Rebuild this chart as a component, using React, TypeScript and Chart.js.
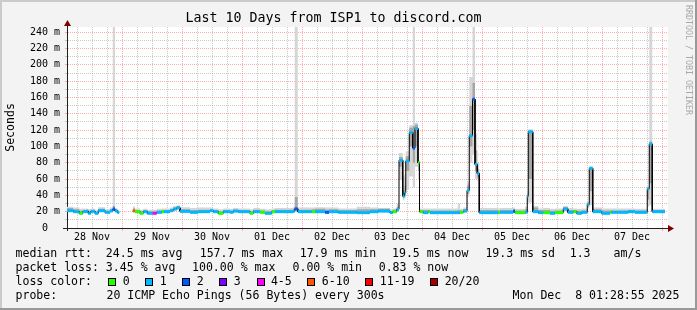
import React, { useEffect, useRef } from 'react';
import { Chart, registerables } from 'chart.js';

Chart.register(...registerables);

const MONO = '"DejaVu Sans Mono", "Liberation Mono", monospace';

const chartTitle = 'Last 10 Days from ISP1 to discord.com';
const yAxisTitle = 'Seconds';
const watermark = 'RRDTOOL / TOBI OETIKER';

// x axis: hours since 28 Nov 00:00
const hourRange = [2, 242];
const dayLabels = ['28 Nov', '29 Nov', '30 Nov', '01 Dec', '02 Dec', '03 Dec', '04 Dec', '05 Dec', '06 Dec', '07 Dec'];
// y axis: milliseconds
const yTicks = [0, 10, 20, 30, 40, 50, 60, 70, 80, 90, 100, 110, 120, 130, 140, 150, 160, 170, 180, 190, 200, 210, 220, 230, 240];
const yMax = 246.5;

// start hour of each step (last entry = end of the last step)
const stepStart = [
  2.0, 4.5, 6.9, 8.3, 9.9, 10.5, 11.5, 13.2, 14.5, 17.2,
  19.2, 20.3, 21.2, 22.1, 22.9, 28.3, 29.2, 31.2, 32.5, 34.1,
  36.3, 37.9, 39.9, 40.8, 43.2, 44.5, 45.9, 47.2, 51.2, 54.4,
  59.2, 60.5, 62.5, 64.5, 67.2, 68.5, 70.5, 75.2, 76.5, 79.2,
  81.2, 83.9, 85.2, 92.5, 93.1, 94.3, 99.9, 101.2, 105.2, 106.8,
  110.5, 117.9, 123.2, 126.5, 131.2, 132.3, 133.9, 134.8, 136.3, 137.0,
  137.5, 138.9, 140.3, 141.2, 142.4, 143.0, 144.5, 146.5, 147.2, 158.3,
  159.2, 160.5, 162.0, 162.9, 164.2, 165.2, 166.1, 166.9, 174.5, 175.2,
  180.5, 181.2, 185.2, 186.1, 186.5, 188.3, 190.5, 192.5, 195.2, 197.2,
  200.5, 202.3, 204.5, 205.9, 207.9, 210.1, 210.9, 212.3, 215.9, 219.2,
  219.8, 226.5, 229.2, 234.1, 234.9, 236.1, 241.2,
];

// median rtt (ms) per step, null = no data
const medianMs: (number | null)[] = [
  21.2, 20.0, 18.0, 20.0, 20.8, 18.0, 20.4, 18.0, 21.2, 19.2,
  21.0, 23.3, 21.0, 19.2, null, 21.0, 20.0, 18.0, 20.0, 18.0,
  18.0, 19.2, 20.0, 20.0, 21.2, 23.3, 24.9, 20.4, 19.2, 20.0,
  21.2, 20.0, 18.0, 20.0, 19.2, 20.8, 20.0, 18.0, 20.0, 19.2,
  18.0, 20.0, 20.0, 20.5, 23.5, 20.0, 20.0, 20.0, 19.2, 20.0,
  19.2, 18.8, 20.0, 20.8, 18.8, 20.0, 22.9, 83, 39, 43,
  82, 117, 98, 122, 80, 20.0, 18.8, 20.0, 18.8, 18.8,
  19.2, 20.8, 46, 113, 158, 78, 67, 18.8, 18.8, 19.2,
  20.8, 18.8, 19.2, 39, 118, 20.0, 18.8, 18.8, 18.0, 18.8,
  23.5, 19.2, 20.0, 18.0, 19.2, 29, 73, 20.0, 18.0, 19.2,
  19.2, 20.0, 19.2, 48, 103, 20.0,
];

// lost pings (of 20) per step
const lossPings: (number | null)[] = [
  1, 1, 0, 1, 1, 1, 1, 1, 1, 1,
  1, 2, 1, 1, null, 8, 0, 0, 1, 1,
  4, 1, 0, 1, 1, 1, 1, 1, 1, 1,
  1, 1, 0, 1, 1, 1, 1, 0, 1, 0,
  1, 0, 1, 1, 2, 1, 0, 1, 2, 1,
  1, 1, 1, 1, 1, 0, 1, 1, 1, 1,
  1, 1, 2, 1, 0, 0, 1, 0, 1, 1,
  0, 1, 1, 1, 2, 1, 1, 1, 0, 1,
  2, 0, 1, 1, 1, 1, 1, 0, 1, 0,
  1, 1, 0, 1, 1, 1, 1, 1, 1, 0,
  1, 1, 1, 1, 1, 1,
];

// smoke: full range of the pings
const smokeLow: (number | null)[] = [
  19.5, 18.5, 17.5, 18.5, 19.0, 17.5, 19.0, 17.5, 19.5, 18.0,
  19.5, 20.0, 19.5, 18.0, null, 19.5, 18.5, 17.5, 18.5, 17.5,
  17.5, 18.0, 18.5, 18.5, 19.5, 21.0, 22.0, 19.0, 18.0, 18.5,
  19.5, 18.5, 17.5, 18.5, 18.0, 19.0, 18.5, 17.5, 18.5, 18.0,
  17.5, 18.5, 18.5, 19.0, 20.0, 18.5, 18.5, 18.5, 18.0, 18.5,
  18.0, 17.5, 18.5, 19.0, 17.5, 18.5, 20.0, 59, 34, 36,
  47, 63, 50, 75, 59, 18.5, 17.5, 18.5, 17.5, 17.5,
  18.0, 19.0, 38, 80, 90, 60, 58, 17.5, 17.5, 18.0,
  19.0, 17.5, 18.0, 32, 31, 18.5, 17.5, 17.5, 17.5, 17.5,
  20.0, 18.0, 18.5, 17.5, 18.0, 24, 28, 18.5, 17.5, 18.0,
  18.0, 18.5, 18.0, 26, 28, 18.5,
];
const smokeHigh: (number | null)[] = [
  26.0, 25.0, 23.5, 24.0, 23.5, 23.0, 24.0, 22.5, 25.5, 23.0,
  25.0, 300, 24.5, 22.5, null, 26.5, 24.0, 22.5, 23.5, 22.5,
  22.5, 23.5, 24.0, 24.0, 25.0, 27.0, 28.0, 25.5, 24.5, 25.0,
  25.0, 24.0, 23.0, 24.0, 23.5, 24.5, 24.0, 23.0, 24.5, 23.5,
  23.0, 24.0, 24.5, 26.0, 300, 25.0, 25.0, 25.5, 25.0, 25.0,
  24.0, 26.0, 25.0, 24.5, 23.0, 24.0, 30.0, 92, 63, 66,
  94, 126, 300, 129, 84, 24.0, 24.0, 24.0, 24.0, 30.5,
  23.5, 25.0, 56, 185, 300, 116, 80, 24.5, 24.0, 24.5,
  25.0, 23.5, 26.0, 44, 121, 27.0, 24.0, 24.5, 23.5, 24.0,
  27.0, 24.5, 24.0, 23.5, 24.0, 32, 76, 25.0, 24.0, 24.0,
  24.0, 24.0, 23.5, 51, 300, 23.5,
];
// darker smoke: pings closest to the median
const coreLow: (number | null)[] = [
  20.5, 19.5, 18.0, 19.5, 20.0, 18.0, 20.0, 18.0, 20.5, 19.0,
  20.5, 21.0, 20.5, 19.0, null, 20.5, 19.5, 18.0, 19.5, 18.0,
  18.0, 19.0, 19.5, 19.5, 20.5, 22.0, 23.5, 20.0, 19.0, 19.5,
  20.5, 19.5, 18.0, 19.5, 19.0, 20.0, 19.5, 18.0, 19.5, 19.0,
  18.0, 19.5, 19.5, 20.0, 21.0, 19.5, 19.5, 19.5, 19.0, 19.5,
  19.0, 18.5, 19.5, 20.0, 18.5, 19.5, 21.0, 75, 38, 40,
  70, 100, 80, 100, 70, 19.5, 18.5, 19.5, 18.5, 18.5,
  19.0, 20.0, 42, 100, 120, 70, 62, 18.5, 18.5, 19.0,
  20.0, 18.5, 19.0, 35, 60, 19.5, 18.5, 18.5, 18.0, 18.5,
  21.5, 19.0, 19.5, 18.0, 19.0, 26, 45, 19.5, 18.0, 19.0,
  19.0, 19.5, 19.0, 35, 55, 19.5,
];
const coreHigh: (number | null)[] = [
  24.5, 23.0, 21.0, 22.0, 22.0, 20.5, 22.0, 20.0, 23.5, 21.0,
  23.0, 27.0, 23.0, 21.0, null, 24.0, 22.0, 20.5, 22.0, 20.5,
  20.5, 21.5, 22.0, 22.0, 23.5, 25.0, 26.5, 23.0, 22.0, 22.5,
  23.0, 22.0, 20.5, 22.0, 21.5, 22.5, 22.0, 20.5, 22.5, 21.5,
  20.5, 22.0, 22.5, 24.0, 38.0, 22.5, 23.0, 23.5, 22.5, 23.0,
  22.0, 23.0, 23.0, 23.5, 21.0, 22.5, 26.0, 87, 47, 52,
  88, 123, 125, 127, 82, 22.0, 22.0, 22.0, 21.5, 22.0,
  21.5, 23.0, 52, 150, 178, 95, 72, 22.0, 21.5, 22.0,
  23.0, 21.5, 23.0, 42, 119, 25.0, 22.0, 22.0, 21.0, 21.5,
  25.5, 22.0, 22.0, 21.0, 21.5, 31, 74, 23.0, 21.5, 21.5,
  21.5, 22.0, 21.5, 50, 106, 22.0,
];

const lossLabels = ['0', '1', '2', '3', '4-5', '6-10', '11-19', '20/20'];
const lossColors = ['#26ff00', '#00b8ff', '#0059ff', '#7e00ff', '#ff00ff', '#ff5500', '#ff0000', '#a10000'];

const rttLegend = ['median rtt:  24.5 ms avg', '157.7 ms max', '17.9 ms min', '19.5 ms now', '19.3 ms sd', '1.3', 'am/s'];
const lossLegend = ['packet loss: 3.45 % avg', '100.00 % max', '0.00 % min', '0.83 % now'];
const lossColorTitle = 'loss color:';
const probeLabel = 'probe:';
const probeText = '20 ICMP Echo Pings (56 Bytes) every 300s';
const stampText = 'Mon Dec  8 01:28:55 2025';

const BACK = '#f3f3f3';
const AXIS = '#202020';
const ARROW = '#7f0000';
const MAJOR_GRID = 'rgba(255,90,90,0.5)';
const MINOR_GRID = 'rgba(150,150,150,0.5)';
const SMOKE_LIGHT = '#d6d6d6';
const SMOKE_DARK = '#a6a6a6';

function lossClass(n: number): number {
  if (n <= 3) return n;
  if (n <= 5) return 4;
  if (n <= 10) return 5;
  if (n <= 19) return 6;
  return 7;
}

type Pt = { x: number; y: number | null };
function stepPoints(vals: (number | null)[]): { pts: Pt[]; owner: number[] } {
  const pts: Pt[] = [];
  const owner: number[] = [];
  for (let i = 0; i < vals.length; i++) {
    const v = vals[i];
    if (v === null) {
      pts.push({ x: stepStart[i], y: null });
      owner.push(i);
      continue;
    }
    pts.push({ x: stepStart[i], y: v });
    owner.push(i);
    pts.push({ x: stepStart[i + 1], y: v });
    owner.push(i);
  }
  return { pts, owner };
}

const xTickHours: number[] = [];
dayLabels.forEach((_, k) => {
  [0, 6, 12, 18].forEach((o) => {
    const h = 24 * k + o;
    if (h >= hourRange[0]) xTickHours.push(h);
  });
});
xTickHours.push(24 * dayLabels.length);

const rrdPlugin = {
  id: 'rrdFrame',
  beforeDraw(chart: any) {
    const { ctx, width, height, chartArea: a } = chart;
    ctx.save();
    ctx.fillStyle = BACK;
    ctx.fillRect(0, 0, width, height);
    ctx.fillStyle = '#ffffff';
    ctx.fillRect(a.left, a.top, a.right - a.left + 1, a.bottom - a.top);
    ctx.fillStyle = '#cbcbcb';
    ctx.fillRect(0, 0, width, 2);
    ctx.fillRect(0, 0, 2, height);
    ctx.fillStyle = '#999999';
    ctx.fillRect(0, height - 2, width, 2);
    ctx.fillRect(width - 2, 0, 2, height);
    ctx.restore();
  },
  afterDraw(chart: any) {
    const { ctx, chartArea: a } = chart;
    ctx.save();
    // axis extensions and arrows
    const ax = Math.floor(a.left) + 0.5;
    const ay = Math.floor(a.bottom) + 0.5;
    ctx.strokeStyle = AXIS;
    ctx.lineWidth = 1;
    ctx.beginPath();
    ctx.moveTo(ax, a.top);
    ctx.lineTo(ax, a.top - 4);
    ctx.moveTo(ax, a.bottom);
    ctx.lineTo(ax, a.bottom + 3);
    ctx.moveTo(a.left - 4, ay);
    ctx.lineTo(a.right + 2, ay);
    ctx.stroke();
    ctx.fillStyle = ARROW;
    ctx.beginPath();
    ctx.moveTo(ax, a.top - 7);
    ctx.lineTo(ax - 3.5, a.top - 1);
    ctx.lineTo(ax + 3.5, a.top - 1);
    ctx.closePath();
    ctx.fill();
    ctx.beginPath();
    ctx.moveTo(a.right + 7, ay);
    ctx.lineTo(a.right + 1, ay - 3.5);
    ctx.lineTo(a.right + 1, ay + 3.5);
    ctx.closePath();
    ctx.fill();

    // watermark
    ctx.save();
    ctx.translate(688.5, 5);
    ctx.rotate(Math.PI / 2);
    ctx.font = `8.3px ${MONO}`;
    ctx.fillStyle = '#a8a8a8';
    ctx.textAlign = 'left';
    ctx.textBaseline = 'middle';
    ctx.fillText(watermark, 0, 0);
    ctx.restore();

    // legend
    ctx.font = `11.55px ${MONO}`;
    ctx.fillStyle = '#000';
    ctx.textAlign = 'left';
    ctx.textBaseline = 'alphabetic';
    const rttX = [15.5, 199.7, 299.7, 392, 485.4, 569.7, 613.6];
    rttLegend.forEach((t, i) => ctx.fillText(t, rttX[i], 257.3));
    const lossX = [15.5, 192, 292.5, 378.7];
    lossLegend.forEach((t, i) => ctx.fillText(t, lossX[i], 271.3));
    ctx.fillText(lossColorTitle, 15.5, 285.3);
    let bx = 108.3;
    lossLabels.forEach((t, i) => {
      const x0 = Math.round(bx);
      ctx.fillStyle = lossColors[i];
      ctx.fillRect(x0, 278, 8, 8);
      ctx.strokeStyle = '#000';
      ctx.lineWidth = 1;
      ctx.strokeRect(x0 + 0.5, 278.5, 7, 7);
      ctx.fillStyle = '#000';
      const tx = bx + 14.4;
      ctx.fillText(t, tx, 285.3);
      bx = tx + ctx.measureText(t).width + 15.7;
    });
    ctx.fillText(probeLabel, 15.5, 299);
    ctx.fillText(probeText, 106.5, 299);
    ctx.fillText(stampText, 512.6, 299);
    ctx.restore();
  },
};

export default function App() {
  const ref = useRef<HTMLCanvasElement | null>(null);

  useEffect(() => {
    document.body.style.margin = '0';
    const canvas = ref.current;
    if (!canvas) return;

    const med = stepPoints(medianMs);
    const marks = stepPoints(medianMs);
    const sLo = stepPoints(smokeLow);
    const sHi = stepPoints(smokeHigh);
    const cLo = stepPoints(coreLow);
    const cHi = stepPoints(coreHigh);

    const base = {
      pointRadius: 0,
      pointHoverRadius: 0,
      pointHitRadius: 0,
      tension: 0,
      spanGaps: false,
    };

    const chart = new Chart(canvas, {
      type: 'line',
      data: {
        datasets: [
          { ...base, data: med.pts, borderColor: '#000000', borderWidth: 1, fill: false, order: 1 },
          {
            ...base,
            data: marks.pts,
            borderColor: lossColors[1],
            borderWidth: 3,
            fill: false,
            order: 0,
            segment: {
              borderColor: (ctx: any) => {
                if (ctx.p0.parsed.x === ctx.p1.parsed.x) return 'rgba(0,0,0,0)';
                const l = lossPings[marks.owner[ctx.p0DataIndex]];
                return l === null ? 'rgba(0,0,0,0)' : lossColors[lossClass(l)];
              },
            },
          },
          { ...base, data: cHi.pts, borderColor: 'rgba(0,0,0,0)', borderWidth: 0, backgroundColor: SMOKE_DARK, fill: '+1', order: 2 },
          { ...base, data: cLo.pts, borderColor: 'rgba(0,0,0,0)', borderWidth: 0, fill: false, order: 2 },
          { ...base, data: sHi.pts, borderColor: 'rgba(0,0,0,0)', borderWidth: 0, backgroundColor: SMOKE_LIGHT, fill: '+1', order: 3 },
          { ...base, data: sLo.pts, borderColor: 'rgba(0,0,0,0)', borderWidth: 0, fill: false, order: 3 },
        ] as any,
      },
      options: {
        animation: false,
        responsive: false,
        devicePixelRatio: 1,
        events: [],
        layout: { padding: { top: 0, right: 30, bottom: 0, left: 0 } },
        plugins: {
          legend: { display: false },
          tooltip: { enabled: false },
          title: {
            display: true,
            text: chartTitle,
            color: '#000',
            font: { family: MONO, size: 13.3, weight: 'normal', lineHeight: 1.2 },
            padding: { top: 11, bottom: 0 },
          },
        },
        scales: {
          x: {
            type: 'linear',
            bounds: 'data',
            min: hourRange[0],
            max: hourRange[1],
            afterFit: (s: any) => {
              s.height = 82;
            },
            afterBuildTicks: (s: any) => {
              s.ticks = xTickHours.map((v) => ({ value: v }));
            },
            ticks: {
              autoSkip: false,
              maxRotation: 0,
              minRotation: 0,
              padding: 0,
              color: '#000',
              font: { family: MONO, size: 10 },
              callback: (v: any) => {
                const h = Number(v);
                return h % 24 === 12 ? dayLabels[(h - 12) / 24] : '';
              },
            },
            grid: {
              color: (c: any) => (c.tick && c.tick.value % 24 === 0 ? MAJOR_GRID : MINOR_GRID),
              lineWidth: 1,
              drawTicks: true,
              tickLength: 3,
              tickColor: (c: any) => (c.tick && c.tick.value % 24 === 0 ? MAJOR_GRID : 'rgba(0,0,0,0)'),
            },
            border: { display: true, color: AXIS, width: 1, dash: [1, 1] },
          },
          y: {
            type: 'linear',
            bounds: 'data',
            min: 0,
            max: yMax,
            afterFit: (s: any) => {
              s.width = 67;
            },
            afterBuildTicks: (s: any) => {
              s.ticks = yTicks.map((v) => ({ value: v }));
            },
            ticks: {
              autoSkip: false,
              padding: 5,
              color: '#000',
              font: { family: MONO, size: 10 },
              callback: (v: any) => {
                const n = Number(v);
                if (n % 20 !== 0) return '';
                return n === 0 ? '0  ' : `${n} m`;
              },
            },
            grid: {
              color: (c: any) => (c.tick && c.tick.value % 20 === 0 ? MAJOR_GRID : MINOR_GRID),
              lineWidth: 1,
              drawTicks: true,
              tickLength: 2,
              tickColor: (c: any) => (c.tick && c.tick.value % 20 === 0 ? MAJOR_GRID : MINOR_GRID),
            },
            border: { display: true, color: AXIS, width: 1, dash: [1, 1] },
            title: {
              display: true,
              text: yAxisTitle,
              color: '#000',
              font: { family: MONO, size: 11.55, weight: 'normal', lineHeight: 1.2 },
              padding: { top: 4, bottom: 0 },
            },
          },
        },
      } as any,
      plugins: [rrdPlugin as any],
    });

    return () => chart.destroy();
  }, []);

  return (
    <div style={{ position: 'fixed', left: 0, top: 0, width: 697, height: 310 }}>
      <canvas ref={ref} width={697} height={310} style={{ display: 'block', width: 697, height: 310 }} />
    </div>
  );
}
